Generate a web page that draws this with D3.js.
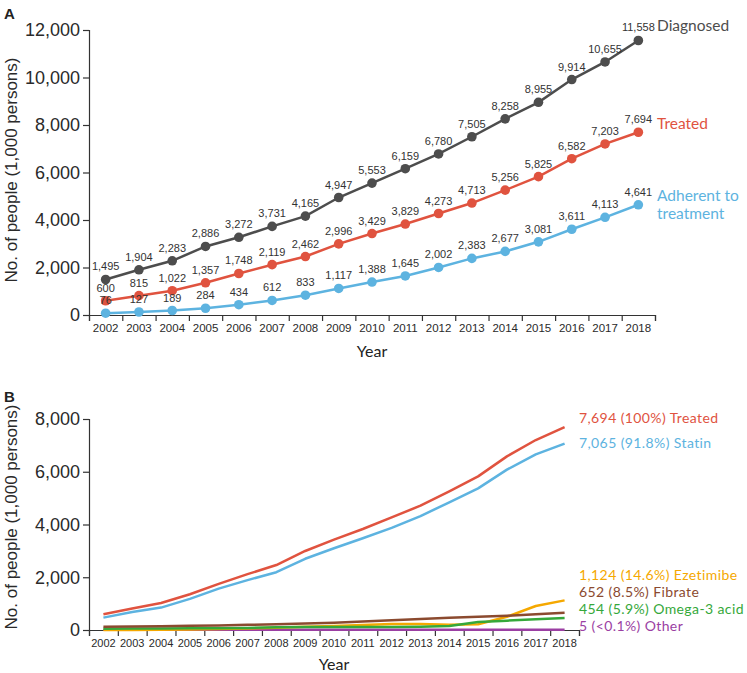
<!DOCTYPE html>
<html><head><meta charset="utf-8">
<script src="https://cdn.jsdelivr.net/npm/d3@7"></script>
<style>
body{margin:0;background:#fff;}
svg{display:block;}
</style></head>
<body>
<svg id="chart" width="747" height="673"></svg>
<script>
const years = [2002,2003,2004,2005,2006,2007,2008,2009,2010,2011,2012,2013,2014,2015,2016,2017,2018];

// Panel A
const diagnosed = [1495,1904,2283,2886,3272,3731,4165,4947,5553,6159,6780,7505,8258,8955,9914,10655,11558];
const treated   = [600,815,1022,1357,1748,2119,2462,2996,3429,3829,4273,4713,5256,5825,6582,7203,7694];
const adherent  = [76,127,189,284,434,612,833,1117,1388,1645,2002,2383,2677,3081,3611,4113,4641];
const yTicksA = [0,2000,4000,6000,8000,10000,12000];

// Panel B
const statin    = [470,680,850,1180,1570,1890,2190,2700,3100,3480,3870,4320,4840,5370,6080,6660,7065];
const ezetimibe = [0,0,5,20,40,60,90,120,150,190,225,225,195,220,500,910,1124];
const fibrate   = [126,135,145,160,175,195,215,245,275,320,365,420,460,500,540,600,652];
const omega3    = [50,55,60,65,70,76,100,110,115,115,115,126,150,300,355,405,454];
const other     = [8,8,7,7,6,6,6,6,5,5,5,5,5,5,5,5,5];
const yTicksB = [0,2000,4000,6000,8000];

const seriesA = [
  {name:"Diagnosed", values:diagnosed, color:"#4d4d4d", label:["Diagnosed"]},
  {name:"Treated", values:treated, color:"#e0533f", label:["Treated"]},
  {name:"Adherent", values:adherent, color:"#5db3e0", label:["Adherent to","treatment"]}
];
const seriesB = [
  {values:treated, color:"#e0533f", label:"7,694 (100%) Treated"},
  {values:statin, color:"#5db3e0", label:"7,065 (91.8%) Statin"},
  {values:fibrate, color:"#8b4a2f", label:"652 (8.5%) Fibrate"},
  {values:omega3, color:"#35a83a", label:"454 (5.9%) Omega-3 acid"},
  {values:ezetimibe, color:"#f5a800", label:"1,124 (14.6%) Ezetimibe"},
  {values:other, color:"#9b3fa3", label:"5 (<0.1%) Other"}
];
const labelYB = {"7,694 (100%) Treated":418,"7,065 (91.8%) Statin":443,"1,124 (14.6%) Ezetimibe":574.5,"652 (8.5%) Fibrate":591.5,"454 (5.9%) Omega-3 acid":608.5,"5 (<0.1%) Other":625.5};

const svg = d3.select("#chart");
const axisFont = "'Liberation Sans', Arial, sans-serif";
const labelFont = "Lato, 'Open Sans', sans-serif";
const fmt = d3.format(",");

function drawAxes(g, x, xEdge, y, yTicks, opts){
  const [x0,x1] = x.range();
  const ya = g.append("g").attr("transform",`translate(${x0},0)`)
    .call(d3.axisLeft(y).tickValues(yTicks).tickFormat(fmt).tickSize(6).tickPadding(3));
  ya.selectAll("text").attr("font-family",axisFont).attr("font-size",opts.yFont).attr("fill","#2a2a2a");
  const y0 = y.range()[0];
  g.append("g").attr("transform",`translate(0,${y0})`)
    .call(d3.axisBottom(xEdge).tickValues(d3.range(years.length+1)).tickFormat("").tickSize(6));
  const xl = g.append("g").attr("transform",`translate(0,${y0})`)
    .call(d3.axisBottom(x).tickSize(0).tickPadding(opts.xPad));
  xl.select(".domain").remove();
  xl.selectAll("text").attr("font-family",axisFont).attr("font-size",opts.xFont).attr("fill","#2a2a2a");
  g.selectAll(".domain, .tick line").attr("stroke","#333").attr("stroke-width",1.2);
  g.append("text").attr("x",(x0+x1)/2).attr("y",opts.yearY).attr("text-anchor","middle")
    .attr("font-family",labelFont).attr("font-size",16).attr("fill","#222").text("Year");
  g.append("text").attr("transform",`translate(17,${opts.titleY}) rotate(-90)`)
    .attr("text-anchor","middle").attr("font-family",axisFont).attr("font-size",17).attr("fill","#2a2a2a")
    .text("No. of people (1,000 persons)");
}

// ---------- Panel A ----------
{
  const g = svg.append("g");
  const x = d3.scaleBand().domain(years).range([89,655]).padding(0);
  const xEdge = d3.scaleLinear().domain([0,years.length]).range([89,655]);
  const y = d3.scaleLinear().domain([0,12000]).range([315,30]);
  drawAxes(g, x, xEdge, y, yTicksA, {yFont:18, xFont:11.5, xPad:9, yearY:357, titleY:170});
  const cx = d => x(d) + x.bandwidth()/2;
  const line = d3.line().x((v,i)=>cx(years[i])).y(v=>y(v));
  seriesA.forEach(s=>{
    g.append("path").attr("d",line(s.values)).attr("fill","none").attr("stroke",s.color).attr("stroke-width",2.5);
    g.selectAll(null).data(s.values).enter().append("circle")
      .attr("cx",(v,i)=>cx(years[i])).attr("cy",v=>y(v)).attr("r",4.8).attr("fill",s.color);
    g.selectAll(null).data(s.values).enter().append("text")
      .attr("x",(v,i)=>cx(years[i])).attr("y",v=>y(v)-9).attr("text-anchor","middle")
      .attr("font-family",axisFont).attr("font-size",11).attr("fill","#333").text(v=>fmt(v));
    const t = g.append("text").attr("x",657).attr("font-family",labelFont).attr("font-size",15.5).attr("fill",s.color);
    const baseY = s.name==="Diagnosed" ? 31 : (s.name==="Treated" ? 129 : 201);
    s.label.forEach((l,k)=>t.append("tspan").attr("x",657).attr("y",baseY+k*18).text(l));
  });
  svg.append("text").attr("x",4).attr("y",19).attr("font-family",axisFont).attr("font-weight","bold")
    .attr("font-size",15).attr("fill","#222").text("A");
}

// ---------- Panel B ----------
{
  const g = svg.append("g");
  const x = d3.scaleBand().domain(years).range([89,579]).padding(0);
  const xEdge = d3.scaleLinear().domain([0,years.length]).range([89,579]);
  const y = d3.scaleLinear().domain([0,8000]).range([630,419]);
  drawAxes(g, x, xEdge, y, yTicksB, {yFont:18, xFont:11, xPad:9, yearY:670, titleY:517});
  const cx = d => x(d) + x.bandwidth()/2;
  const line = d3.line().x((v,i)=>cx(years[i])).y(v=>y(v));
  seriesB.slice().reverse().forEach(s=>{
    g.append("path").attr("d",line(s.values)).attr("fill","none").attr("stroke",s.color)
      .attr("stroke-width",2.5).attr("stroke-linejoin","round");
  });
  seriesB.forEach(s=>{
    g.append("text").attr("x",579).attr("y",labelYB[s.label]+5).attr("font-family",labelFont)
      .attr("font-size",14).attr("letter-spacing","0.4px").attr("fill",s.color).text(s.label);
  });
  svg.append("text").attr("x",4).attr("y",402).attr("font-family",axisFont).attr("font-weight","bold")
    .attr("font-size",15).attr("fill","#222").text("B");
}
</script>
</body></html>
